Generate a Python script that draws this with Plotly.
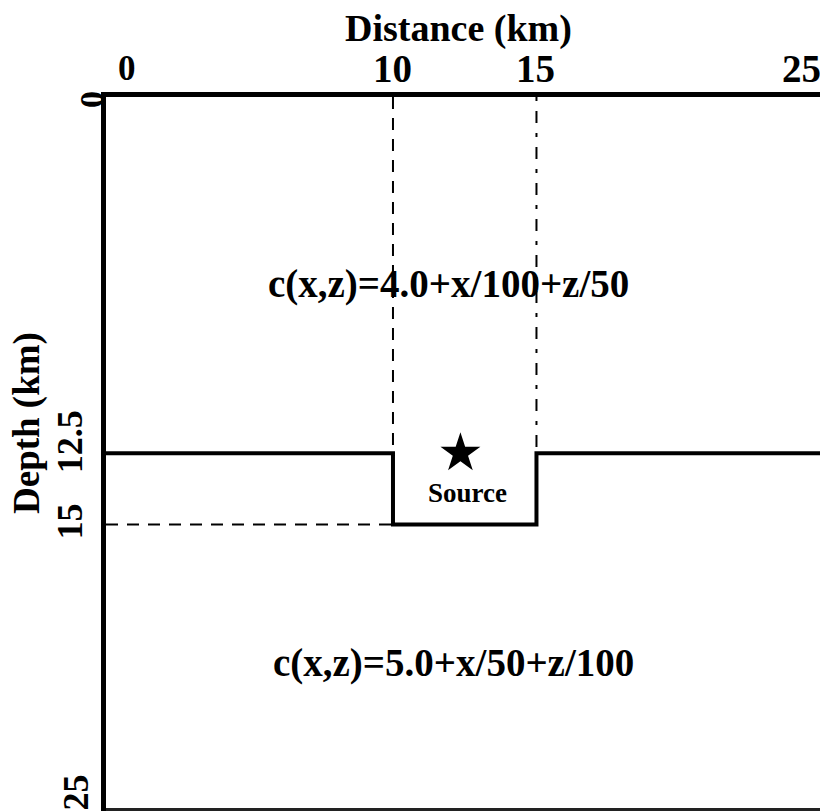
import plotly.graph_objects as go

# Model geometry (km)
interface_x = [0, 10, 10, 15, 15, 25]
interface_z = [12.5, 12.5, 15, 15, 12.5, 12.5]

guide_left_x = [10, 10]
guide_left_z = [0, 12.5]
guide_right_x = [15, 15]
guide_right_z = [0, 12.5]
guide_base_x = [0, 10]
guide_base_z = [15, 15]

bottom_x = [0, 25]
bottom_z = [25, 25]

source_x = [12.35]
source_z = [12.5]

# Axis ticks
x_ticks = [0, 10, 15, 25]
x_tick_text = ["0", "10", "15", "25"]
x_tick_shift = [21, 0, -1, -22]
y_ticks = [0, 12.5, 15, 25]
y_tick_text = ["0", "12.5", "15", "25"]
y_tick_xshift = [-15, -36, -36, -30]
y_tick_yshift = [-3, 11, 3, 17]

# Velocity labels
layer_labels = ["c(x,z)=4.0+x/100+z/50", "c(x,z)=5.0+x/50+z/100"]
layer_label_x = [11.95, 12.1]
layer_label_z = [6.55, 19.85]

FONT = "Liberation Serif"
BLACK = "#000000"
X_MAX = 24.88  # visible extent of the distance axis

fig = go.Figure()

fig.add_trace(go.Scatter(x=guide_left_x, y=guide_left_z, mode="lines",
                         line=dict(color=BLACK, width=2, dash="12px,9px")))
fig.add_trace(go.Scatter(x=guide_right_x, y=guide_right_z, mode="lines",
                         line=dict(color=BLACK, width=2, dash="4px,10px,12px,10px")))
fig.add_trace(go.Scatter(x=guide_base_x, y=guide_base_z, mode="lines",
                         line=dict(color=BLACK, width=2, dash="12px,9px")))
fig.add_trace(go.Scatter(x=interface_x, y=interface_z, mode="lines",
                         line=dict(color=BLACK, width=4)))
fig.add_trace(go.Scatter(x=bottom_x, y=bottom_z, mode="lines",
                         line=dict(color="#222222", width=3)))
fig.add_trace(go.Scatter(x=source_x, y=source_z, mode="markers",
                         marker=dict(symbol="star", size=30, color=BLACK)))

annotations = []
for xv, txt, sh in zip(x_ticks, x_tick_text, x_tick_shift):
    annotations.append(dict(x=xv / X_MAX, y=1, xref="paper", yref="paper",
                            text="<b>%s</b>" % txt,
                            showarrow=False, xanchor="center", yanchor="middle",
                            xshift=sh, yshift=29,
                            font=dict(family=FONT, size=39 if txt != "0" else 35, color=BLACK)))
for yv, txt, xs, ys in zip(y_ticks, y_tick_text, y_tick_xshift, y_tick_yshift):
    annotations.append(dict(x=0, y=yv, xref="paper", yref="y", text="<b>%s</b>" % txt,
                            showarrow=False, xanchor="center", yanchor="middle",
                            xshift=xs, yshift=ys, textangle=-90,
                            font=dict(family=FONT, size=36 if txt != "0" else 34, color=BLACK)))
for txt, xv, zv in zip(layer_labels, layer_label_x, layer_label_z):
    annotations.append(dict(x=xv, y=zv, xref="x", yref="y", text="<b>%s</b>" % txt,
                            showarrow=False, xanchor="center", yanchor="middle",
                            font=dict(family=FONT, size=39, color=BLACK)))
annotations.append(dict(x=12.6, y=13.9, xref="x", yref="y", text="<b>Source</b>",
                        showarrow=False, xanchor="center", yanchor="middle",
                        font=dict(family=FONT, size=27, color=BLACK)))
annotations.append(dict(x=0.5, y=1, xref="paper", yref="paper", text="<b>Distance (km)</b>",
                        showarrow=False, xanchor="center", yanchor="middle",
                        xshift=458 - (106 + 714 / 2), yshift=97 - 28,
                        font=dict(family=FONT, size=38, color=BLACK)))
annotations.append(dict(x=0, y=0.5, xref="paper", yref="paper", text="<b>Depth (km)</b>",
                        showarrow=False, xanchor="center", yanchor="middle", textangle=-90,
                        xshift=27 - 106, yshift=(97 + 714 / 2) - 423,
                        font=dict(family=FONT, size=37, color=BLACK)))

fig.update_layout(
    width=820, height=811,
    margin=dict(l=106, r=0, t=97, b=0),
    paper_bgcolor="white", plot_bgcolor="white",
    showlegend=False,
    annotations=annotations,
    xaxis=dict(range=[0, X_MAX], side="top", showgrid=False, zeroline=False,
               showticklabels=False, ticks="", showline=True, linewidth=5,
               linecolor=BLACK, fixedrange=True),
    yaxis=dict(range=[25.05, 0], showgrid=False, zeroline=False,
               showticklabels=False, ticks="", showline=True, linewidth=5,
               linecolor=BLACK, fixedrange=True),
)

fig.write_html("out.html")
